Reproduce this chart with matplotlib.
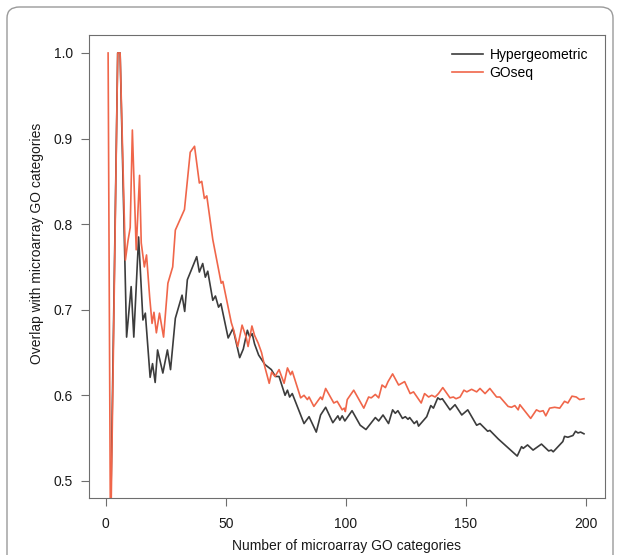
import numpy as np
import matplotlib
matplotlib.use("Agg")
from matplotlib import pyplot as plt
from matplotlib.patches import FancyBboxPatch

# Rank of microarray GO category vs. overlap
hyperX = [2, 5, 6, 8.7, 10.6, 11.7, 13.7, 15.5, 16.5, 18.5, 19.5, 20.6, 21.6,
          23.8, 25.7, 27, 29, 31.8, 32.9, 34, 37.9, 39, 40.4, 41.5, 42.5,
          44.6, 45.7, 47, 48, 51, 53, 55.8, 57.3, 59, 60, 61, 62, 63.7, 66.3,
          69, 70.7, 72.2, 74.7, 75.7, 76.6, 77.7, 82.6, 84.7, 87.7, 89.5,
          91.6, 94.6, 96.7, 97.5, 98.5, 99.6, 102.6, 106, 108.4, 112.3, 113.7,
          115.5, 117.8, 119.5, 120.6, 121.7, 123.6, 124.8, 125.9, 126.6,
          128.5, 129.6, 130.3, 133.7, 135.4, 136.5, 138.3, 139.3, 140.2,
          143.4, 145.5, 148.3, 150.8, 154.5, 155.9, 159.1, 160.0, 163.5,
          171.4, 173.2, 173.9, 175.7, 178.0, 181.5, 184.5, 185.6, 186.4,
          190.4, 191.1, 192.5, 194.6, 195.7, 196.7, 197.8, 199.2]
hyperY = [0.45, 1.0, 1.0, 0.668, 0.727, 0.668, 0.785, 0.688, 0.696, 0.621,
          0.637, 0.615, 0.653, 0.626, 0.653, 0.630, 0.690, 0.717, 0.698,
          0.735, 0.762, 0.744, 0.754, 0.738, 0.745, 0.711, 0.716, 0.703,
          0.707, 0.667, 0.678, 0.644, 0.654, 0.676, 0.668, 0.672, 0.660,
          0.647, 0.636, 0.630, 0.622, 0.622, 0.600, 0.606, 0.598, 0.602,
          0.567, 0.575, 0.557, 0.577, 0.586, 0.568, 0.576, 0.571, 0.576,
          0.570, 0.582, 0.565, 0.560, 0.574, 0.570, 0.577, 0.567, 0.583,
          0.579, 0.582, 0.573, 0.575, 0.572, 0.574, 0.567, 0.570, 0.564,
          0.575, 0.588, 0.585, 0.597, 0.595, 0.596, 0.583, 0.589, 0.577,
          0.583, 0.565, 0.567, 0.558, 0.559, 0.549, 0.529, 0.540, 0.538,
          0.542, 0.536, 0.543, 0.535, 0.536, 0.534, 0.546, 0.552, 0.551,
          0.553, 0.558, 0.556, 0.557, 0.555]

goseqX = [1, 2, 5, 6, 8.2, 9.3, 10.2, 11.1, 12.7, 14.1, 14.8, 16.1, 17, 18.3,
          19.3, 20.1, 21.1, 22.4, 24.1, 25.9, 27.9, 29.0, 30.9, 32.8, 35.2,
          37.0, 39.0, 40, 41.1, 42.1, 44.6, 48.1, 48.8, 52.3, 53.3, 55, 56.8,
          58.5, 59.3, 60.9, 62, 63.5, 64.9, 66.3, 68.1, 69.1, 70.5, 72.2,
          74.3, 75.7, 77.0, 77.7, 81.2, 82.6, 84.0, 84.7, 86.7, 89.5, 90.2,
          91.6, 95.0, 96.4, 98.5, 99.4, 99.8, 100.6, 103.3, 107.5, 109.5,
          110.6, 112.3, 113.7, 115.1, 116.5, 117.6, 119.5, 122.0, 124.5,
          126.8, 128.2, 131.4, 132.8, 134.5, 135.8, 137.2, 138.6, 140.4,
          143.4, 144.8, 145.9, 147.6, 149.2, 150.4, 152.4, 154.5, 155.9,
          158.0, 160.0, 162.8, 164.2, 167.6, 169.0, 170.4, 171.8, 172.5,
          177.0, 179.4, 180.8, 182.2, 183.3, 184.9, 187.0, 189.1, 191.1,
          192.5, 194.2, 196.0, 197.4, 199.2]
goseqY = [1.0, 0.42, 1.0, 1.0, 0.758, 0.781, 0.796, 0.910, 0.770, 0.857,
          0.778, 0.750, 0.764, 0.715, 0.684, 0.697, 0.673, 0.696, 0.668,
          0.731, 0.750, 0.793, 0.805, 0.817, 0.884, 0.891, 0.848, 0.850,
          0.830, 0.833, 0.782, 0.731, 0.733, 0.685, 0.676, 0.657, 0.682,
          0.668, 0.657, 0.681, 0.670, 0.661, 0.650, 0.633, 0.614, 0.627,
          0.622, 0.630, 0.614, 0.632, 0.624, 0.628, 0.597, 0.600, 0.595,
          0.598, 0.587, 0.598, 0.595, 0.608, 0.591, 0.593, 0.583, 0.585,
          0.581, 0.595, 0.606, 0.585, 0.598, 0.597, 0.601, 0.597, 0.612,
          0.609, 0.616, 0.625, 0.612, 0.616, 0.602, 0.604, 0.591, 0.602,
          0.598, 0.600, 0.598, 0.602, 0.609, 0.597, 0.598, 0.596, 0.598,
          0.606, 0.604, 0.607, 0.604, 0.608, 0.602, 0.608, 0.598, 0.598,
          0.587, 0.586, 0.588, 0.583, 0.589, 0.573, 0.583, 0.581, 0.582,
          0.576, 0.585, 0.586, 0.585, 0.593, 0.591, 0.599, 0.598, 0.595,
          0.596]

xTicks = [0, 50, 100, 150, 200]
yTicks = [0.5, 0.6, 0.7, 0.8, 0.9, 1.0]
labels = ["Hypergeometric", "GOseq"]


def main():
    plt.rcParams['font.family'] = ['Liberation Sans', 'DejaVu Sans']
    fig = plt.figure(figsize=(6.21, 5.55), dpi=100)

    # grey rounded frame, open at the bottom
    frame = FancyBboxPatch((7 / 621, -0.05), 606 / 621, 1.05 - 7 / 555,
                           boxstyle="round,pad=0,rounding_size=0.02",
                           transform=fig.transFigure, fill=False,
                           edgecolor="#9a9a9a", linewidth=1.0)
    fig.patches.append(frame)

    ax = fig.add_axes([89 / 621, 1 - 498 / 555, 516 / 621, 463 / 555])
    ax.plot(hyperX, hyperY, color="#3c3c3c", lw=1.2, label=labels[0])
    ax.plot(goseqX, goseqY, color="#f0664a", lw=1.2, label=labels[1])

    ax.set_xlim(1 - 0.04 * 199, 200 + 0.04 * 199)
    ax.set_ylim(0.48, 1.021)
    ax.set_xticks(xTicks)
    ax.set_xticklabels([str(t) for t in xTicks])
    ax.set_yticks(yTicks)
    ax.set_yticklabels(["{:.1f}".format(t) for t in yTicks])

    for s in ax.spines.values():
        s.set_color("#6e6e6e")
        s.set_linewidth(0.8)
    ax.tick_params(axis="both", direction="out", length=5.5, width=0.8,
                   color="#6e6e6e", labelsize=10, labelcolor="#1a1a1a")
    ax.tick_params(axis="x", pad=8)
    ax.tick_params(axis="y", pad=6)

    ax.set_xlabel("Number of microarray GO categories", fontsize=10,
                  color="#1a1a1a", labelpad=6)
    ax.set_ylabel("Overlap with microarray GO categories", fontsize=10,
                  color="#1a1a1a")
    # R-style label sits a bit higher than the axis centre
    ax.yaxis.set_label_coords(-0.088, (498 - 243) / 463)

    ax.legend(loc="upper left", bbox_to_anchor=(452 / 621, 1 - 48 / 555),
              bbox_transform=fig.transFigure, frameon=False, fontsize=10,
              handlelength=2.2, handletextpad=0.5, labelspacing=0.3,
              borderpad=0, borderaxespad=0)

    fig.savefig("out.png", dpi=100)


if __name__ == "__main__":
    main()
